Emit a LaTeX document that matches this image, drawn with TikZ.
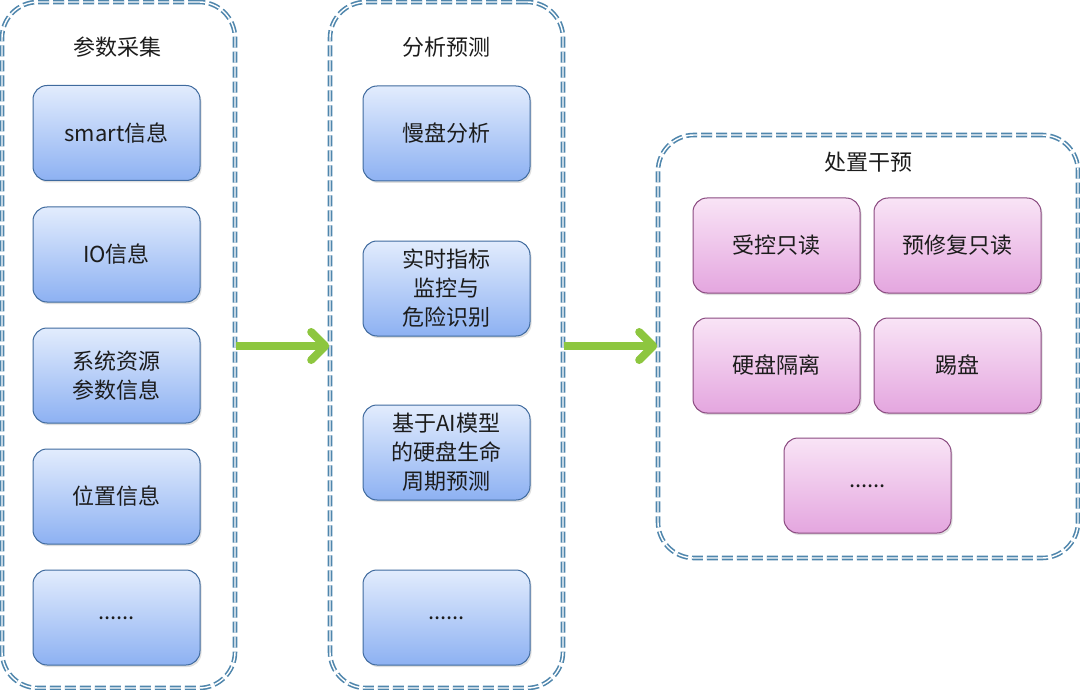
\documentclass[tikz,border=0pt]{standalone}
\usepackage{fontspec}
\setmainfont{Noto Sans CJK SC}
\usetikzlibrary{arrows.meta,shadows}

\definecolor{frameblue}{HTML}{4F86AC}
\definecolor{blueedge}{HTML}{3F6A9E}
\definecolor{bluetop}{HTML}{E2ECFD}
\definecolor{bluebot}{HTML}{8DB1F2}
\definecolor{pinkedge}{HTML}{8A4A80}
\definecolor{pinktop}{HTML}{F9E4F6}
\definecolor{pinkbot}{HTML}{E4A6DF}
\definecolor{arrowgreen}{HTML}{8DC63F}
\definecolor{textdark}{HTML}{1C1C1C}

\tikzset{
	group node/.style = {
		rectangle,
		rounded corners = 36pt,
		draw = frameblue,
		double = white,
		double distance = 1.4pt,
		line width = 1.6pt,
		dash pattern = on 11pt off 4pt
	},
	title node/.style = {
		text = textdark,
		font = \fontsize{22}{26}\selectfont
	},
	info node/.style = {
		rectangle,
		rounded corners = 14pt,
		minimum width = 167pt,
		minimum height = 95pt,
		inner sep = 0pt,
		align = center,
		line width = 1pt,
		text = textdark,
		font = \fontsize{22}{29}\selectfont,
		drop shadow = {opacity=0.25, shadow xshift=1.5pt, shadow yshift=-2pt}
	},
	blue node/.style = {
		info node,
		draw = blueedge,
		top color = bluetop,
		bottom color = bluebot
	},
	pink node/.style = {
		info node,
		draw = pinkedge,
		top color = pinktop,
		bottom color = pinkbot
	},
	flow arrow/.style = {
		draw = arrowgreen,
		line width = 8pt,
		-{Straight Barb[length=14pt, width=28pt, line cap=round, line join=round]}
	}
}

\begin{document}
\begin{tikzpicture}[x=1pt, y=-1pt]
	\useasboundingbox (0,0) rectangle (1080,690);

	% three groups
	\node at (118.5,345) [group node, minimum width=233pt, minimum height=686pt] (collect) {};
	\node at (446.5,345) [group node, minimum width=233pt, minimum height=686pt] (analyse) {};
	\node at (868,346.5) [group node, minimum width=420pt, minimum height=423pt] (handle) {};

	\node at (117,47)  [title node] (collect title) {参数采集};
	\node at (446,47)  [title node] (analyse title) {分析预测};
	\node at (868,162) [title node] (handle title) {处置干预};

	% parameter collection
	\node at (116.5,133)   [blue node] (smart) {smart信息};
	\node at (116.5,254.5) [blue node] (io) {IO信息};
	\node at (116.5,375.5) [blue node] (sysres) {系统资源\\参数信息};
	\node at (116.5,496.5) [blue node] (place) {位置信息};
	\node at (116.5,617.5) [blue node] (collect more) {\raisebox{-5pt}{......}};

	% analysis and prediction
	\node at (446.5,133.5) [blue node] (slow) {慢盘分析};
	\node at (446.5,288.5) [blue node] (monitor) {实时指标\\监控与\\危险识别};
	\node at (446.5,452.5) [blue node] (lifecycle) {基于AI模型\\的硬盘生命\\周期预测};
	\node at (446.5,617.5) [blue node] (analyse more) {\raisebox{-5pt}{......}};

	% handling
	\node at (776.5,245.5)  [pink node] (readonly) {受控只读};
	\node at (957.5,245.5)  [pink node] (prerepair) {预修复只读};
	\node at (776.5,365.5)  [pink node] (isolate) {硬盘隔离};
	\node at (957.5,365.5)  [pink node] (kick) {踢盘};
	\node at (867.5,485.5)  [pink node] (handle more) {\raisebox{-5pt}{......}};

	% flow
	\draw [flow arrow] ([yshift=-1pt]collect.east) -- ([yshift=-1pt]analyse.west);
	\draw [flow arrow] ([yshift=-1pt]analyse.east) -- (handle.west |- 0,346);
\end{tikzpicture}
\end{document}
